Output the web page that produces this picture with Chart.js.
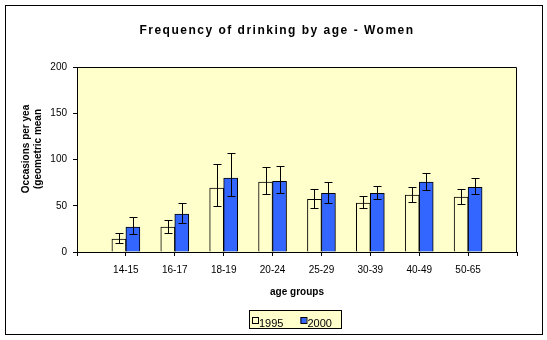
<!DOCTYPE html>
<html>
<head>
<meta charset="utf-8">
<script src="https://cdn.jsdelivr.net/npm/chart.js@4.4.1/dist/chart.umd.min.js"></script>
<style>
  body { margin: 0; background: #fff; }
  canvas { display: block; }
</style>
</head>
<body>
<canvas id="chart" width="547" height="340"></canvas>
<script>
// Data
const ageGroups = ['14-15', '16-17', '18-19', '20-24', '25-29', '30-39', '40-49', '50-65'];
const series = ['1995', '2000'];
const values1995 = [14, 27, 69, 75.5, 57, 53, 61.5, 59.5];
const values2000 = [27, 41, 80, 76.5, 63.5, 63.5, 75.5, 70];
const low1995 = [9.7, 20.5, 49.5, 62.5, 47.5, 47.5, 54, 52];
const high1995 = [20.5, 35, 95, 91.5, 68, 60.5, 70, 68];
const low2000 = [19.5, 31.3, 60.5, 63.5, 53, 57, 67, 62.5];
const high2000 = [37.5, 52.5, 107, 92.5, 75.5, 71, 85, 80];
const yTicks = [0, 50, 100, 150, 200];

const chartTitle = 'Frequency of drinking by age - Women';
const yTitle = ['Occasions per yea', '(geometric mean'];  // cut off like the original
const FONT = 'Arial, "Liberation Sans", sans-serif';

// empty slot on each side, as in the original axis
const labels = [''].concat(ageGroups, ['']);
const pad = arr => [null].concat(arr, [null]);
const errors = [
  { low: low1995, high: high1995 },
  { low: low2000, high: high2000 }
];

// frame, plot background, titles, legend box
const decor = {
  id: 'decor',
  beforeDraw(chart) {
    const { ctx, chartArea: a } = chart;
    ctx.save();
    ctx.fillStyle = '#ffffcc';
    ctx.fillRect(a.left, a.top, a.right - a.left, a.bottom - a.top);
    ctx.restore();
  },
  afterDraw(chart) {
    const { ctx, chartArea: a } = chart;
    ctx.save();
    ctx.strokeStyle = '#000';
    ctx.lineWidth = 1;
    // plot top + right edge
    ctx.beginPath();
    ctx.moveTo(Math.round(a.left) + 0.5, Math.round(a.top) + 0.5);
    ctx.lineTo(Math.round(a.right) - 0.5, Math.round(a.top) + 0.5);
    ctx.lineTo(Math.round(a.right) - 0.5, Math.round(a.bottom) + 0.5);
    ctx.stroke();
    // outer frame
    ctx.strokeRect(5.5, 5.5, 537, 329);

    // chart title (Excel spreads the letters a bit)
    ctx.fillStyle = '#000';
    ctx.font = 'bold 12px ' + FONT;
    ctx.textAlign = 'center';
    ctx.textBaseline = 'middle';
    if ('letterSpacing' in ctx) ctx.letterSpacing = '1.5px';
    ctx.fillText(chartTitle, 277, 31);
    if ('letterSpacing' in ctx) ctx.letterSpacing = '0px';

    // y axis title
    ctx.font = 'bold 10px ' + FONT;
    yTitle.forEach((t, i) => {
      ctx.save();
      ctx.translate(26 + i * 12.5, 149);
      ctx.rotate(-Math.PI / 2);
      ctx.fillText(t, 0, 0);
      ctx.restore();
    });

    // legend
    const cx = (a.left + a.right) / 2;
    const lx = Math.round(cx - 48), ly = 310;
    ctx.fillStyle = '#ffffcc';
    ctx.fillRect(lx, ly, 93, 19);
    ctx.strokeRect(lx + 0.5, ly + 0.5, 92, 18);
    ctx.font = '11px ' + FONT;
    ctx.textAlign = 'left';
    ctx.textBaseline = 'alphabetic';
    let x = lx + 3;
    chart.data.datasets.forEach(ds => {
      ctx.fillStyle = ds.backgroundColor;
      ctx.fillRect(x, ly + 7, 6, 6);
      ctx.strokeStyle = '#000';
      ctx.strokeRect(x + 0.5, ly + 7.5, 6, 6);
      ctx.fillStyle = '#000';
      ctx.fillText(ds.label, x + 7, ly + 17);
      x += 7 + ctx.measureText(ds.label).width + 17;
    });
    ctx.restore();
  }
};

// error bars from the low/high arrays
const errorBars = {
  id: 'errorBars',
  afterDatasetsDraw(chart) {
    const { ctx, scales: { y } } = chart;
    ctx.save();
    ctx.strokeStyle = '#000';
    ctx.lineWidth = 1;
    chart.data.datasets.forEach((ds, i) => {
      const meta = chart.getDatasetMeta(i);
      errors[i].low.forEach((lo, j) => {
        const bar = meta.data[j + 1];
        const x = Math.round(bar.x) + 0.5;
        const yl = Math.round(y.getPixelForValue(lo)) + 0.5;
        const yh = Math.round(y.getPixelForValue(errors[i].high[j])) + 0.5;
        ctx.beginPath();
        ctx.moveTo(x, yl); ctx.lineTo(x, yh);
        ctx.moveTo(x - 4, yl); ctx.lineTo(x + 4, yl);
        ctx.moveTo(x - 4, yh); ctx.lineTo(x + 4, yh);
        ctx.stroke();
      });
    });
    ctx.restore();
  }
};

new Chart(document.getElementById('chart'), {
  type: 'bar',
  data: {
    labels: labels,
    datasets: [
      {
        label: series[0],
        data: pad(values1995),
        backgroundColor: '#ffffcc',
        borderColor: '#000',
        borderWidth: 1,
        barThickness: 14
      },
      {
        label: series[1],
        data: pad(values2000),
        backgroundColor: '#3366ff',
        borderColor: '#000',
        borderWidth: 1,
        barThickness: 14
      }
    ]
  },
  options: {
    responsive: false,
    animation: false,
    layout: { padding: { left: 6, right: 0, top: 67, bottom: 0 } },
    plugins: {
      legend: { display: false },
      tooltip: { enabled: false },
      title: { display: false }
    },
    scales: {
      x: {
        offset: false,
        grid: { offset: false, drawOnChartArea: false, color: '#000', tickLength: 4 },
        border: { color: '#000' },
        ticks: { color: '#000', font: { family: FONT, size: 10 }, padding: 8, maxRotation: 0, autoSkip: false },
        title: {
          display: true,
          text: 'age groups',
          color: '#000',
          font: { family: FONT, size: 10, weight: 'bold' },
          padding: { top: 0, bottom: 42 }
        },
        afterFit: s => { s.height = 88; }
      },
      y: {
        min: 0,
        max: 200,
        afterBuildTicks: s => { s.ticks = yTicks.map(v => ({ value: v })); },
        grid: { drawOnChartArea: false, color: '#000', tickLength: 4 },
        border: { color: '#000' },
        ticks: { color: '#000', font: { family: FONT, size: 10 }, padding: 6 },
        afterFit: s => { s.width = 71; }
      },
      yRight: {
        position: 'right',
        display: true,
        grid: { display: false },
        border: { display: false },
        ticks: { display: false },
        afterFit: s => { s.width = 30; }
      }
    }
  },
  plugins: [decor, errorBars]
});
</script>
</body>
</html>
